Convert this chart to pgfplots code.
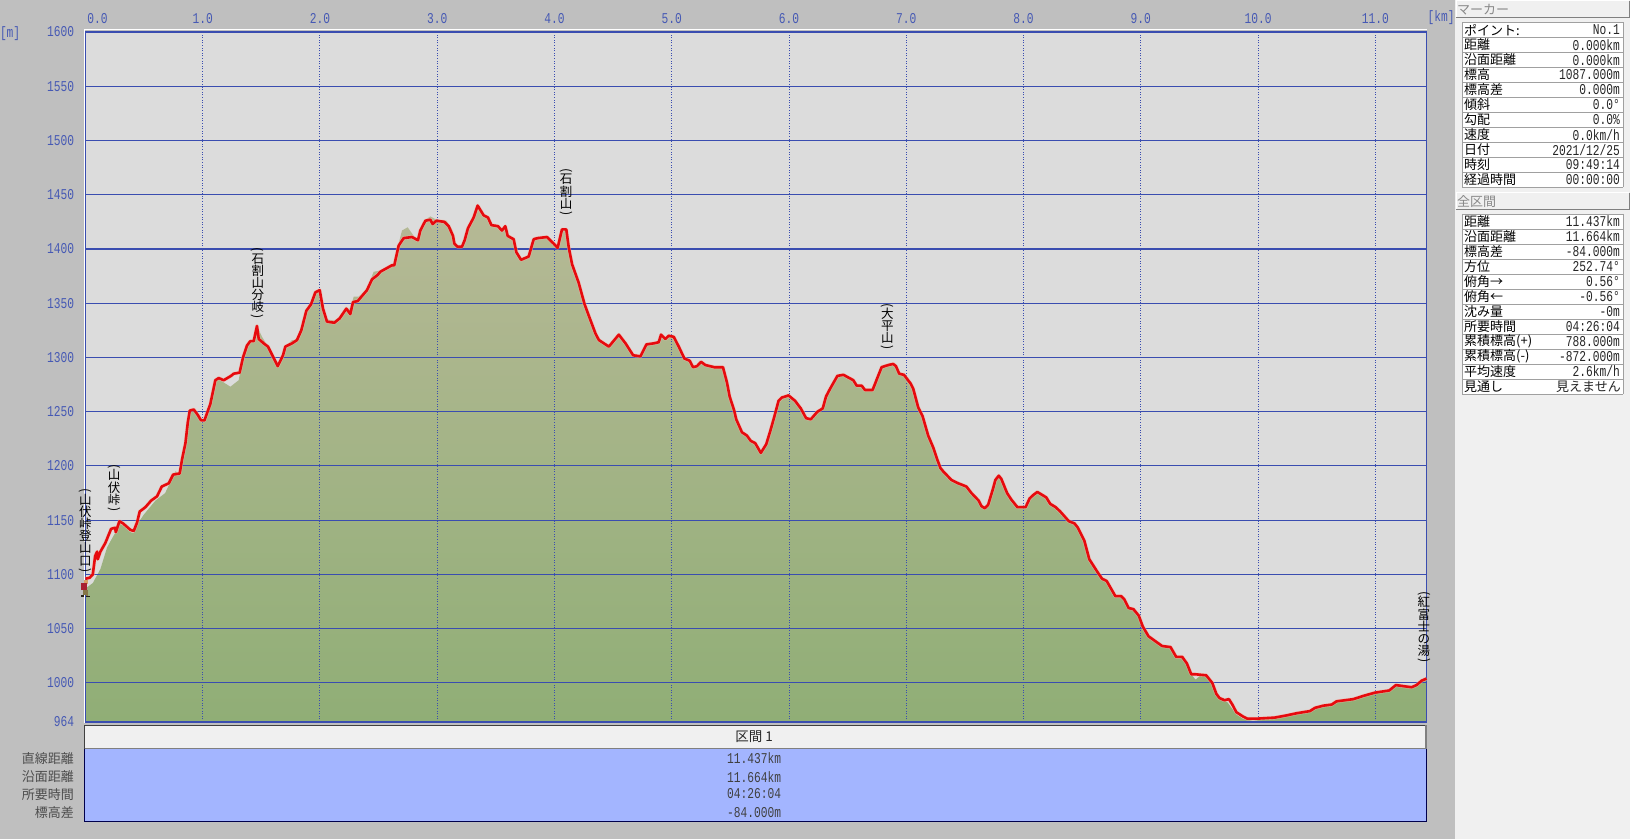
\documentclass[border=0pt]{standalone}
\usepackage{pgfplots}
\usepackage{pgfplotstable}
\usepackage{graphicx}
\usepackage{fontspec}
\pgfplotsset{compat=1.18}
\setmainfont{Liberation Serif}
\newfontfamily\cjk{Noto Sans CJK JP}
\newfontfamily\num[FakeStretch=0.75]{Liberation Mono}
\definecolor{bggray}{HTML}{BFBFBF}
\definecolor{plotbg}{HTML}{DCDCDC}
\definecolor{gridblue}{HTML}{3A4DB0}
\definecolor{ticktxt}{HTML}{4659B4}
\definecolor{panelbg}{HTML}{F0F0F0}
\definecolor{band}{HTML}{A3B5FF}
\definecolor{terrtop}{HTML}{B6B996}
\definecolor{terrbot}{HTML}{90AE76}
\definecolor{track}{HTML}{E60A0E}
\definecolor{halo}{HTML}{F4B8A8}
\definecolor{rowline}{HTML}{A0A0A0}
\definecolor{hdtxt}{HTML}{888888}
\definecolor{rbody}{HTML}{A82032}
\definecolor{rhead}{HTML}{D9A066}
\definecolor{rleg}{HTML}{857548}
\definecolor{rfoot}{HTML}{262218}
\pgfdeclareplotmark{runner}{%
 \pgfsetfillcolor{rhead}\pgfpathrectangle{\pgfpoint{-1pt}{5pt}}{\pgfpoint{3.5pt}{4pt}}\pgfusepath{fill}%
 \pgfsetfillcolor{rbody}\pgfpathrectangle{\pgfpoint{-4pt}{-1pt}}{\pgfpoint{6pt}{6.5pt}}\pgfusepath{fill}%
 \pgfsetfillcolor{rleg}\pgfpathrectangle{\pgfpoint{-2.5pt}{-6pt}}{\pgfpoint{3pt}{5pt}}\pgfusepath{fill}%
 \pgfpathrectangle{\pgfpoint{0.5pt}{-7pt}}{\pgfpoint{2.5pt}{6pt}}\pgfusepath{fill}%
 \pgfsetfillcolor{rfoot}\pgfpathrectangle{\pgfpoint{-4.5pt}{-8pt}}{\pgfpoint{3.5pt}{2pt}}\pgfusepath{fill}%
 \pgfpathrectangle{\pgfpoint{1pt}{-8.5pt}}{\pgfpoint{4pt}{1.5pt}}\pgfusepath{fill}%
}
% GPS track: distance [km], elevation [m]
\pgfplotstableread[row sep=\\]{
x y\\
0.000 1096\\ 0.037 1097\\ 0.063 1100\\ 0.083 1117\\ 0.100 1121\\ 0.105 1114\\ 0.128 1121\\ 0.170 1129\\ 0.219 1142\\ 0.253 1143\\
0.259 1139\\ 0.290 1149\\ 0.321 1147\\ 0.384 1141\\ 0.412 1140\\ 0.441 1148\\ 0.463 1158\\ 0.512 1162\\ 0.560 1168\\ 0.611 1172\\
0.651 1181\\ 0.711 1184\\ 0.748 1192\\ 0.804 1193\\ 0.824 1206\\ 0.853 1221\\ 0.873 1240\\ 0.890 1251\\ 0.924 1252\\ 0.958 1247\\
0.986 1242\\ 1.015 1242\\ 1.065 1257\\ 1.108 1279\\ 1.137 1281\\ 1.179 1279\\ 1.242 1283\\ 1.264 1285\\ 1.315 1286\\ 1.344 1300\\
1.378 1311\\ 1.406 1315\\ 1.435 1315\\ 1.463 1329\\ 1.478 1317\\ 1.520 1313\\ 1.557 1310\\ 1.640 1292\\ 1.685 1302\\ 1.705 1310\\
1.762 1313\\ 1.804 1316\\ 1.841 1325\\ 1.884 1343\\ 1.924 1349\\ 1.961 1360\\ 1.998 1362\\ 2.026 1345\\ 2.060 1333\\ 2.123 1332\\
2.168 1336\\ 2.225 1345\\ 2.259 1340\\ 2.282 1351\\ 2.322 1352\\ 2.401 1362\\ 2.444 1372\\ 2.492 1376\\ 2.515 1379\\ 2.615 1385\\
2.634 1385\\ 2.671 1403\\ 2.714 1410\\ 2.785 1411\\ 2.836 1408\\ 2.856 1417\\ 2.899 1426\\ 2.941 1427\\ 2.961 1423\\ 2.993 1426\\
3.061 1425\\ 3.098 1421\\ 3.135 1412\\ 3.146 1405\\ 3.174 1402\\ 3.211 1402\\ 3.234 1408\\ 3.262 1419\\ 3.311 1429\\ 3.345 1440\\
3.396 1431\\ 3.433 1429\\ 3.462 1422\\ 3.518 1421\\ 3.552 1417\\ 3.581 1421\\ 3.601 1412\\ 3.652 1409\\ 3.675 1397\\ 3.715 1390\\
3.780 1393\\ 3.823 1409\\ 3.857 1410\\ 3.936 1411\\ 3.993 1405\\ 4.027 1401\\ 4.064 1418\\ 4.101 1418\\ 4.121 1402\\ 4.150 1386\\
4.206 1369\\ 4.257 1349\\ 4.291 1339\\ 4.350 1322\\ 4.379 1316\\ 4.464 1310\\ 4.549 1321\\ 4.606 1313\\ 4.671 1302\\ 4.733 1301\\
4.784 1312\\ 4.847 1313\\ 4.889 1314\\ 4.909 1321\\ 4.946 1317\\ 4.974 1320\\ 5.017 1319\\ 5.060 1310\\ 5.108 1299\\ 5.153 1297\\
5.182 1291\\ 5.216 1292\\ 5.250 1296\\ 5.287 1293\\ 5.363 1291\\ 5.437 1291\\ 5.471 1277\\ 5.494 1264\\ 5.533 1251\\ 5.550 1243\\
5.599 1231\\ 5.641 1228\\ 5.675 1223\\ 5.712 1221\\ 5.760 1212\\ 5.806 1220\\ 5.840 1232\\ 5.874 1245\\ 5.911 1260\\ 5.939 1263\\
5.996 1265\\ 6.052 1260\\ 6.101 1253\\ 6.146 1244\\ 6.186 1243\\ 6.243 1250\\ 6.288 1253\\ 6.316 1264\\ 6.350 1271\\ 6.413 1283\\
6.464 1284\\ 6.549 1279\\ 6.577 1274\\ 6.620 1274\\ 6.648 1270\\ 6.713 1270\\ 6.790 1291\\ 6.847 1293\\ 6.889 1294\\ 6.912 1292\\
6.940 1285\\ 6.980 1284\\ 7.037 1276\\ 7.060 1271\\ 7.102 1254\\ 7.139 1246\\ 7.187 1228\\ 7.230 1217\\ 7.264 1206\\ 7.292 1198\\
7.315 1195\\ 7.386 1187\\ 7.443 1184\\ 7.513 1181\\ 7.556 1175\\ 7.618 1168\\ 7.641 1163\\ 7.670 1161\\ 7.698 1164\\ 7.740 1179\\
7.760 1187\\ 7.789 1191\\ 7.811 1188\\ 7.860 1175\\ 7.896 1169\\ 7.948 1162\\ 8.018 1162\\ 8.052 1170\\ 8.081 1173\\ 8.118 1176\\
8.194 1171\\ 8.228 1165\\ 8.274 1162\\ 8.313 1158\\ 8.387 1149\\ 8.435 1147\\ 8.464 1143\\ 8.519 1131\\ 8.561 1114\\ 8.632 1102\\
8.670 1096\\ 8.709 1094\\ 8.783 1080\\ 8.832 1080\\ 8.860 1077\\ 8.897 1069\\ 8.937 1068\\ 8.983 1062\\ 9.017 1052\\ 9.066 1043\\
9.117 1039\\ 9.182 1034\\ 9.254 1033\\ 9.302 1024\\ 9.353 1024\\ 9.393 1018\\ 9.430 1008\\ 9.459 1008\\ 9.558 1007\\ 9.610 1000\\
9.644 990\\ 9.672 986\\ 9.715 984\\ 9.752 985\\ 9.781 980\\ 9.815 973\\ 9.872 969\\ 9.909 967\\ 9.986 967\\ 10.142 968\\
10.242 970\\ 10.328 972\\ 10.443 974\\ 10.486 977\\ 10.557 979\\ 10.628 980\\ 10.670 983\\ 10.812 985\\ 10.898 988\\ 10.997 991\\
11.119 993\\ 11.176 998\\ 11.239 997\\ 11.310 996\\ 11.352 998\\ 11.395 1002\\ 11.437 1004\\
}\trackdata
% terrain profile under the track
\pgfplotstableread[row sep=\\]{
x y\\
0.000 964\\ 0.000 1087\\ 0.063 1092\\ 0.128 1105\\ 0.185 1125\\ 0.242 1136\\ 0.259 1139\\ 0.290 1147\\ 0.321 1145\\ 0.384 1139\\ 0.412 1138\\
0.441 1146\\ 0.497 1155\\ 0.597 1168\\ 0.680 1175\\ 0.767 1195\\ 0.804 1193\\ 0.824 1206\\ 0.853 1221\\ 0.873 1240\\ 0.890 1250\\
0.924 1250\\ 0.958 1245\\ 0.986 1240\\ 1.015 1241\\ 1.065 1257\\ 1.108 1279\\ 1.136 1280\\ 1.236 1273\\ 1.307 1279\\ 1.344 1300\\
1.378 1311\\ 1.406 1315\\ 1.435 1315\\ 1.463 1329\\ 1.506 1319\\ 1.557 1310\\ 1.640 1292\\ 1.685 1302\\ 1.705 1310\\ 1.762 1316\\
1.804 1316\\ 1.841 1325\\ 1.884 1343\\ 1.924 1349\\ 1.961 1360\\ 1.998 1362\\ 2.026 1345\\ 2.060 1335\\ 2.123 1334\\ 2.168 1337\\
2.225 1345\\ 2.259 1345\\ 2.288 1356\\ 2.330 1356\\ 2.401 1363\\ 2.458 1379\\ 2.515 1380\\ 2.615 1385\\ 2.634 1385\\ 2.671 1405\\
2.700 1417\\ 2.748 1420\\ 2.800 1412\\ 2.836 1409\\ 2.856 1418\\ 2.899 1427\\ 2.941 1430\\ 2.993 1427\\ 3.080 1426\\ 3.126 1418\\
3.146 1407\\ 3.174 1403\\ 3.211 1403\\ 3.234 1409\\ 3.262 1420\\ 3.311 1430\\ 3.345 1440\\ 3.396 1431\\ 3.433 1429\\ 3.462 1422\\
3.518 1421\\ 3.552 1417\\ 3.581 1421\\ 3.601 1412\\ 3.652 1409\\ 3.675 1397\\ 3.715 1390\\ 3.780 1393\\ 3.823 1409\\ 3.857 1410\\
3.936 1411\\ 3.993 1405\\ 4.027 1401\\ 4.064 1418\\ 4.101 1418\\ 4.121 1402\\ 4.150 1386\\ 4.206 1369\\ 4.257 1349\\ 4.291 1339\\
4.350 1322\\ 4.379 1316\\ 4.464 1310\\ 4.549 1321\\ 4.606 1313\\ 4.671 1302\\ 4.733 1301\\ 4.784 1312\\ 4.847 1313\\ 4.889 1314\\
4.909 1321\\ 4.946 1317\\ 4.974 1320\\ 5.017 1319\\ 5.060 1310\\ 5.108 1299\\ 5.153 1297\\ 5.182 1291\\ 5.216 1292\\ 5.250 1296\\
5.287 1293\\ 5.363 1291\\ 5.437 1291\\ 5.471 1277\\ 5.494 1264\\ 5.533 1251\\ 5.550 1243\\ 5.599 1231\\ 5.641 1228\\ 5.675 1223\\
5.712 1221\\ 5.760 1212\\ 5.806 1220\\ 5.840 1232\\ 5.874 1245\\ 5.911 1260\\ 5.939 1263\\ 5.996 1265\\ 6.052 1260\\ 6.101 1253\\
6.146 1244\\ 6.186 1243\\ 6.243 1250\\ 6.288 1253\\ 6.316 1264\\ 6.350 1271\\ 6.413 1283\\ 6.464 1284\\ 6.549 1279\\ 6.577 1274\\
6.620 1274\\ 6.648 1270\\ 6.713 1270\\ 6.790 1291\\ 6.847 1293\\ 6.889 1294\\ 6.912 1292\\ 6.940 1285\\ 6.980 1284\\ 7.037 1276\\
7.060 1271\\ 7.102 1254\\ 7.139 1246\\ 7.187 1228\\ 7.230 1217\\ 7.264 1206\\ 7.292 1198\\ 7.315 1195\\ 7.386 1187\\ 7.443 1184\\
7.513 1181\\ 7.556 1175\\ 7.618 1168\\ 7.641 1163\\ 7.670 1161\\ 7.698 1164\\ 7.740 1179\\ 7.760 1187\\ 7.789 1191\\ 7.811 1188\\
7.860 1175\\ 7.896 1169\\ 7.948 1162\\ 8.018 1162\\ 8.052 1170\\ 8.081 1173\\ 8.118 1176\\ 8.194 1171\\ 8.228 1165\\ 8.274 1162\\
8.313 1158\\ 8.387 1149\\ 8.435 1147\\ 8.464 1143\\ 8.519 1131\\ 8.561 1114\\ 8.632 1102\\ 8.670 1096\\ 8.709 1094\\ 8.783 1080\\
8.832 1080\\ 8.860 1077\\ 8.897 1069\\ 8.937 1068\\ 8.983 1062\\ 9.017 1052\\ 9.066 1043\\ 9.117 1039\\ 9.182 1034\\ 9.254 1033\\
9.302 1024\\ 9.353 1024\\ 9.393 1018\\ 9.430 1008\\ 9.467 1003\\ 9.510 1007\\ 9.558 1007\\ 9.610 1000\\ 9.644 990\\ 9.672 986\\
9.740 982\\ 9.815 971\\ 9.872 967\\ 9.957 965\\ 10.020 966\\ 10.142 968\\ 10.242 970\\ 10.328 972\\ 10.443 974\\ 10.486 977\\
10.557 979\\ 10.628 980\\ 10.670 983\\ 10.812 985\\ 10.898 988\\ 10.997 991\\ 11.119 993\\ 11.176 998\\ 11.239 997\\ 11.310 996\\
11.352 998\\ 11.395 1002\\ 11.437 1004\\ 11.437 964\\
}\terraindata
\newcommand\vch[1]{\hbox to 13pt{\hss\raisebox{0pt}[10.2pt][2pt]{#1}\hss}}
\newcommand\vpar[1]{\hbox to 13pt{\hss\raisebox{5pt}[6pt][0pt]{\rotatebox{-90}{#1}}\hss}}
\newcommand\vlab[1]{\vbox{\offinterlineskip\cjk\fontsize{12.5}{12.5}\selectfont\vpar{(}\foreach\vc in {#1}{\vch{\vc}}\vpar{)}}}
\newcommand\lbl[3]{\node[anchor=west,inner sep=0pt,text=black,font=\cjk\fontsize{13}{13}\selectfont] at (#1,#2) {#3};}
\newcommand\val[3]{\node[anchor=east,inner sep=0pt,text=black!85,font=\num\fontsize{15}{15}\selectfont] at (#1,#2) {#3};}
\pgfplotsset{common/.style={
  at={(85.3pt,117pt)},anchor=south west,scale only axis,
  width=1341.2pt,height=690pt,
  xmin=0,xmax=11.437,ymin=964,ymax=1600,
  clip=false}}
\begin{document}
\begin{tikzpicture}
\begin{scope}[x=1pt,y=-1pt,shift={(0pt,839pt)}]
  \fill[bggray] (0,0) rectangle (1630,839);
  \fill[plotbg] (85,31) rectangle (1427,722);
  \draw[white,line width=1pt] (84,723) -- (84,30) -- (1427,30);
\end{scope}
\begin{axis}[common,hide axis]
\addplot[draw=none,top color=terrtop,bottom color=terrbot] table[x=x,y=y] {\terraindata};
\end{axis}
\begin{axis}[common,
  xtick={0,1,2,3,4,5,6,7,8,9,10,11},
  xticklabels={\hspace{24pt}0.0,1.0,2.0,3.0,4.0,5.0,6.0,7.0,8.0,9.0,10.0,11.0},
  ytick={964,1000,1050,1100,1150,1200,1250,1300,1350,1400,1450,1500,1550,1600},
  yticklabels={964,1000,1050,1100,1150,1200,1250,1300,1350,1400,1450,1500,1550,1600},
  xticklabel pos=top,yticklabel pos=left,
  axis line style={draw=gridblue,line width=1.5pt},
  xmajorgrids,ymajorgrids,
  x grid style={draw=gridblue,line width=0.9pt,dash pattern=on 1pt off 1.6pt},
  y grid style={draw=gridblue,line width=1.1pt},
  major tick length=0pt,
  tick label style={text=ticktxt,font=\num\fontsize{15}{15}\selectfont,inner sep=0pt},
  xticklabel style={yshift=8pt},
  yticklabel style={xshift=-11pt},
]
\addplot[halo,line width=3.8pt,line join=round,opacity=0.55] table[x=x,y=y] {\trackdata};
\addplot[track,line width=2.6pt,line join=round] table[x=x,y=y] {\trackdata};
\addplot[only marks,mark=runner] coordinates {(0,1087)};
\node[anchor=south,inner sep=0pt] at (axis cs:0,1101) {\vlab{山,伏,峠,登,山,口}};
\node[anchor=south,inner sep=0pt] at (axis cs:0.245,1157) {\vlab{山,伏,峠}};
\node[anchor=south,inner sep=0pt] at (axis cs:1.47,1334.5) {\vlab{石,割,山,分,岐}};
\node[anchor=south,inner sep=0pt] at (axis cs:4.10,1430) {\vlab{石,割,山}};
\node[anchor=south,inner sep=0pt] at (axis cs:6.84,1306) {\vlab{大,平,山}};
\node[anchor=south,inner sep=0pt] at (axis cs:11.415,1017.5) {\vlab{紅,富,士,の,湯}};
\end{axis}
\begin{scope}[x=1pt,y=-1pt,shift={(0pt,839pt)}]
  % axis unit labels
  \node[text=ticktxt,font=\num\fontsize{15}{15}\selectfont,inner sep=0pt] at (10,34) {[m]};
  \node[text=ticktxt,font=\num\fontsize{15}{15}\selectfont,inner sep=0pt] at (1441,18) {[km]};
  % lower band
  \fill[panelbg] (84.5,725.5) rectangle (1426,749);
  \draw[black!75,line width=1pt] (84.5,749) -- (84.5,725.5) -- (1426,725.5);
  \draw[gray,line width=1.2pt] (84.5,749) -- (1426,749) -- (1426,725.5);
  \node[inner sep=0pt,font=\cjk\fontsize{13.5}{13.5}\selectfont,text=black!85] at (754,737) {区間 1};
  \fill[band] (84.5,749.5) rectangle (1426,822);
  \draw[black!70!blue,line width=0.9pt] (84.5,749.5) -- (84.5,822) -- (1426,822) -- (1426,749.5);
  \foreach \yy/\tt in {758/11.437km,777/11.664km,794/04:26:04,813/-84.000m}
    \node[inner sep=0pt,font=\num\fontsize{15}{15}\selectfont,text=black!75] at (754,\yy) {\tt};
  \foreach \yy/\tt in {759/直線距離,777/沿面距離,795/所要時間,813/標高差}
    \node[anchor=east,inner sep=0pt,font=\cjk\fontsize{13}{13}\selectfont,text=black!70] at (74,\yy) {\tt};
  % right panel
  \fill[panelbg] (1455,0) rectangle (1630,839);
  \draw[white,line width=1pt] (1456,18) -- (1456,1) -- (1629,1);
  \draw[gray,line width=1pt] (1456,18) -- (1629,18) -- (1629,1);
  \node[anchor=west,inner sep=0pt,font=\cjk\fontsize{13}{13}\selectfont,text=hdtxt] at (1457,9.5) {マーカー};
  \draw[white,line width=1pt] (1456,210) -- (1456,193) -- (1629,193);
  \draw[gray,line width=1pt] (1456,210) -- (1629,210) -- (1629,193);
  \node[anchor=west,inner sep=0pt,font=\cjk\fontsize{13}{13}\selectfont,text=hdtxt] at (1457,201.5) {全区間};
  % marker table
  \fill[white] (1462,22.5) rectangle (1623,187.5);
  \foreach \ii in {0,...,11} \draw[rowline,line width=0.9pt] (1462,22.5+15*\ii) -- (1623,22.5+15*\ii);
  \draw[rowline,line width=0.9pt] (1462,22.5) -- (1462,187.5) (1623,22.5) -- (1623,187.5);
  \lbl{1464}{30}{ポイント:}\val{1620}{30}{No.1}
  \lbl{1464}{45}{距離}\val{1620}{45}{0.000km}
  \lbl{1464}{60}{沿面距離}\val{1620}{60}{0.000km}
  \lbl{1464}{75}{標高}\val{1620}{75}{1087.000m}
  \lbl{1464}{90}{標高差}\val{1620}{90}{0.000m}
  \lbl{1464}{105}{傾斜}\val{1620}{105}{0.0°}
  \lbl{1464}{120}{勾配}\val{1620}{120}{0.0\%}
  \lbl{1464}{135}{速度}\val{1620}{135}{0.0km/h}
  \lbl{1464}{150}{日付}\val{1620}{150}{2021/12/25}
  \lbl{1464}{165}{時刻}\val{1620}{165}{09:49:14}
  \lbl{1464}{180}{経過時間}\val{1620}{180}{00:00:00}
  % total table
  \fill[white] (1462,214) rectangle (1623,394);
  \foreach \ii in {0,...,12} \draw[rowline,line width=0.9pt] (1462,214+15*\ii) -- (1623,214+15*\ii);
  \draw[rowline,line width=0.9pt] (1462,214) -- (1462,394) (1623,214) -- (1623,394);
  \lbl{1464}{221.5}{距離}\val{1620}{221.5}{11.437km}
  \lbl{1464}{236.5}{沿面距離}\val{1620}{236.5}{11.664km}
  \lbl{1464}{251.5}{標高差}\val{1620}{251.5}{-84.000m}
  \lbl{1464}{266.5}{方位}\val{1620}{266.5}{252.74°}
  \lbl{1464}{281.5}{俯角→}\val{1620}{281.5}{0.56°}
  \lbl{1464}{296.5}{俯角←}\val{1620}{296.5}{-0.56°}
  \lbl{1464}{311.5}{沈み量}\val{1620}{311.5}{-0m}
  \lbl{1464}{326.5}{所要時間}\val{1620}{326.5}{04:26:04}
  \lbl{1464}{341.5}{累積標高(+)}\val{1620}{341.5}{788.000m}
  \lbl{1464}{356.5}{累積標高(-)}\val{1620}{356.5}{-872.000m}
  \lbl{1464}{371.5}{平均速度}\val{1620}{371.5}{2.6km/h}
  \lbl{1464}{386.5}{見通し}
  \node[anchor=east,inner sep=0pt,text=black!85,font=\cjk\fontsize{13}{13}\selectfont] at (1621,386.5) {見えません};
\end{scope}
\end{tikzpicture}
\end{document}
